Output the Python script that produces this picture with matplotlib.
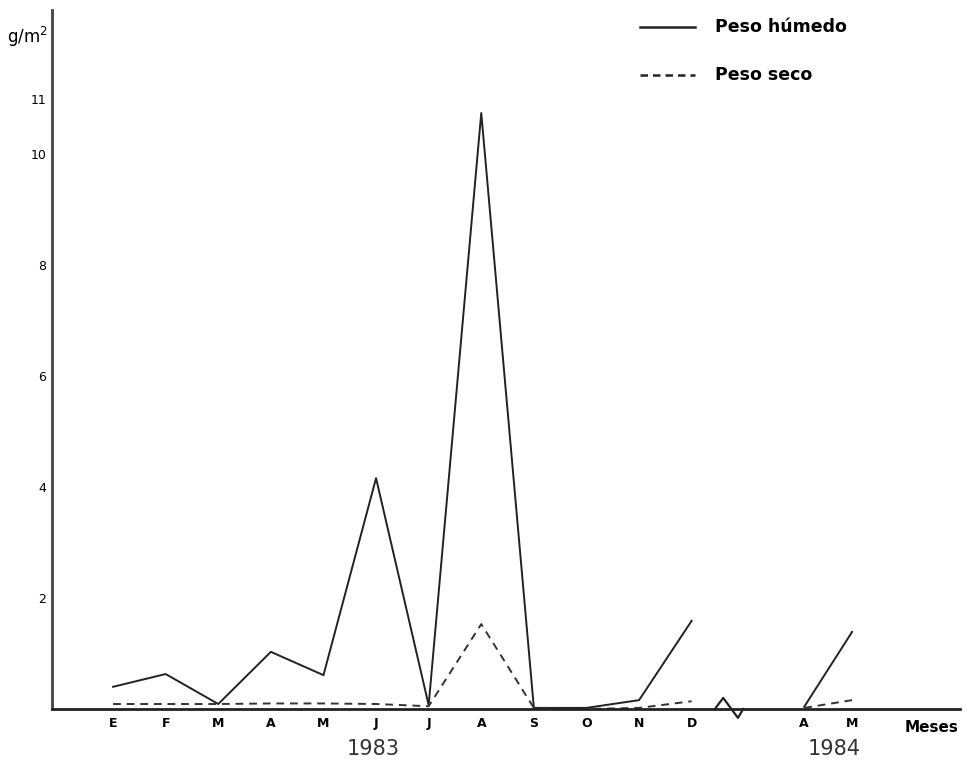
import numpy as np
import matplotlib.pyplot as plt

# month positions on the axis (1983 then 1984 after the break)
meses = ["E", "F", "M", "A", "M", "J", "J", "A", "S", "O", "N", "D", "A", "M"]
pos = [0, 1, 2, 3, 4, 5, 6, 7, 8, 9, 10, 11, 13.14, 14.05]

# g/m2
peso_humedo = [0.40, 0.63, 0.09, 1.03, 0.61, 4.16, 0.07, 10.74, 0.02, 0.02, 0.16, 1.59, 0.04, 1.39]
peso_seco = [0.09, 0.09, 0.09, 0.10, 0.10, 0.09, 0.05, 1.53, 0.02, 0.0, 0.02, 0.14, 0.02, 0.16]

yticks = [2, 4, 6, 8, 10, 11]

fig = plt.figure(figsize=(9.71, 7.65), dpi=100)
ax = fig.add_axes([0.0536, 0.0732, 0.935, 0.914])

x = np.array(pos)
h = np.array(peso_humedo)
s = np.array(peso_seco)
n83 = 12  # 1983 points

ax.plot(x[:n83], h[:n83], '-', color='#222222', lw=1.4)
ax.plot(x[n83:], h[n83:], '-', color='#222222', lw=1.4)
ax.plot(x[:n83], s[:n83], '--', color='#333333', lw=1.4, dashes=(4, 3))
ax.plot(x[n83:], s[n83:], '--', color='#333333', lw=1.4, dashes=(4, 3))

ax.set_xlim(-1.16, 16.1)
ax.set_ylim(0, 12.6)

for sp in ['top', 'right']:
    ax.spines[sp].set_visible(False)
ax.spines['left'].set_linewidth(2)
ax.spines['bottom'].set_linewidth(2)
ax.spines['left'].set_color('#444444')
ax.spines['bottom'].set_color('#222222')

ax.set_xticks(pos)
ax.set_xticklabels(meses, fontsize=9, fontweight='bold')
ax.set_yticks(yticks)
ax.set_yticklabels([str(v) for v in yticks], fontsize=9)
ax.tick_params(axis='x', length=0, pad=6)
ax.tick_params(axis='y', length=0, pad=4)

# axis break symbol between D and A
xb = (pos[11] + pos[12]) / 2 - 0.47
bx = [xb - 0.16, xb, xb + 0.28, xb + 0.38]
by = [0.0, 0.2, -0.16, 0.0]
ax.plot(bx, by, color='#222222', lw=1.6, clip_on=False)

ax.text(4.95, -0.72, "1983", ha='center', va='center', fontsize=15, color='#333333')
ax.text(13.7, -0.72, "1984", ha='center', va='center', fontsize=15, color='#333333')
ax.text(15.57, -0.34, "Meses", ha='center', va='center', fontsize=11, fontweight='bold')
fig.text(0.007, 0.952, "g/m$^2$", ha='left', va='center', fontsize=12)

# legend drawn by hand like the original
ax.plot([10.02, 11.06], [12.29, 12.29], '-', color='#222222', lw=1.8, clip_on=False)
ax.plot([10.02, 11.06], [11.42, 11.42], '--', color='#222222', lw=1.8, dashes=(3, 2), clip_on=False)
ax.text(11.44, 12.29, "Peso húmedo", va='center', fontsize=12.5, fontweight='bold')
ax.text(11.44, 11.42, "Peso seco", va='center', fontsize=12.5, fontweight='bold')

fig.savefig("out.png", dpi=100)
